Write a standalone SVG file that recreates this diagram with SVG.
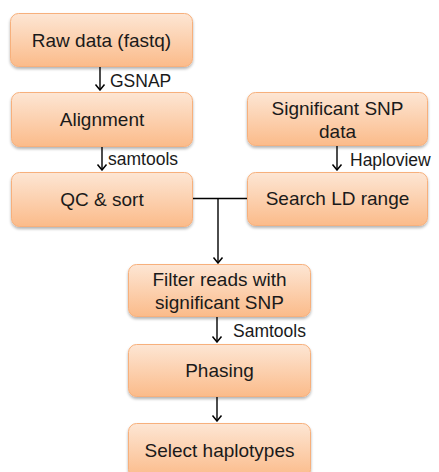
<svg xmlns="http://www.w3.org/2000/svg" width="439" height="472" viewBox="0 0 439 472">
  <defs>
    <linearGradient id="boxFill" x1="0" y1="0" x2="0" y2="1">
      <stop offset="0" stop-color="#fde6d4"/>
      <stop offset="1" stop-color="#fbbb8a"/>
    </linearGradient>
    <filter id="shadow" x="-10%" y="-10%" width="120%" height="130%">
      <feGaussianBlur in="SourceAlpha" stdDeviation="1.5"/>
      <feOffset dx="0" dy="2" result="b"/>
      <feComponentTransfer><feFuncA type="linear" slope="0.3"/></feComponentTransfer>
      <feMerge><feMergeNode/><feMergeNode in="SourceGraphic"/></feMerge>
    </filter>
    <!-- open V arrowhead, drawn along +x so orient="auto" follows the line -->
    <marker id="arrow" viewBox="0 0 10 12" refX="9" refY="6" markerWidth="10" markerHeight="12" markerUnits="userSpaceOnUse" orient="auto">
      <path d="M3.5,1.5 L9,6 L3.5,10.5" fill="none" stroke="#000" stroke-width="1.5"/>
    </marker>
  </defs>
  <style>
    .box { fill: url(#boxFill); stroke: #f7b07c; stroke-width: 1; filter: url(#shadow); }
    .txt { font-family: "Liberation Sans", Arial, sans-serif; font-size: 19px; fill: #1a1a1a; text-anchor: middle; }
    .lbl { font-family: "Liberation Sans", Arial, sans-serif; font-size: 17.5px; fill: #1a1a1a; }
    .conn { stroke: #000; stroke-width: 1.4; fill: none; }
  </style>
  <rect width="439" height="472" fill="#fff"/>

  <g id="connectors">
    <line class="conn" x1="100" y1="67" x2="100" y2="90" marker-end="url(#arrow)"/>
    <line class="conn" x1="102" y1="147" x2="102" y2="170" marker-end="url(#arrow)"/>
    <line class="conn" x1="337" y1="146" x2="337" y2="170" marker-end="url(#arrow)"/>
    <polyline class="conn" points="193,198.5 247,198.5"/>
    <line class="conn" x1="218" y1="198.5" x2="218" y2="263" marker-end="url(#arrow)"/>
    <line class="conn" x1="217" y1="317" x2="217" y2="342" marker-end="url(#arrow)"/>
    <line class="conn" x1="217" y1="397" x2="217" y2="421" marker-end="url(#arrow)"/>
    <text class="lbl" x="110" y="87">GSNAP</text>
    <text class="lbl" x="108" y="165">samtools</text>
    <text class="lbl" x="350" y="166">Haploview</text>
    <text class="lbl" x="233" y="337">Samtools</text>
  </g>

  <g id="raw-data">
    <rect class="box" x="10.5" y="13.5" width="182" height="53" rx="8"/>
    <text class="txt" x="101.5" y="47">Raw data (fastq)</text>
  </g>
  <g id="alignment">
    <rect class="box" x="11.5" y="92.5" width="181" height="54" rx="8"/>
    <text class="txt" x="102" y="126">Alignment</text>
  </g>
  <g id="qc-sort">
    <rect class="box" x="11.5" y="172.5" width="181" height="54" rx="8"/>
    <text class="txt" x="102" y="206">QC &amp; sort</text>
  </g>
  <g id="snp-data">
    <rect class="box" x="247.5" y="92.5" width="180" height="53" rx="8"/>
    <text class="txt" x="337.5" y="115">Significant SNP</text>
    <text class="txt" x="337.5" y="138">data</text>
  </g>
  <g id="search-ld">
    <rect class="box" x="247.5" y="172.5" width="180" height="53" rx="8"/>
    <text class="txt" x="337.5" y="205">Search LD range</text>
  </g>
  <g id="filter-reads">
    <rect class="box" x="128.5" y="264.5" width="182" height="52" rx="8"/>
    <text class="txt" x="219.5" y="286">Filter reads with</text>
    <text class="txt" x="219.5" y="309">significant SNP</text>
  </g>
  <g id="phasing">
    <rect class="box" x="128.5" y="344.5" width="182" height="52" rx="8"/>
    <text class="txt" x="219.5" y="377">Phasing</text>
  </g>
  <g id="select-haplotypes">
    <rect class="box" x="128.5" y="423.5" width="182" height="54" rx="8"/>
    <text class="txt" x="219.5" y="457">Select haplotypes</text>
  </g>
</svg>
